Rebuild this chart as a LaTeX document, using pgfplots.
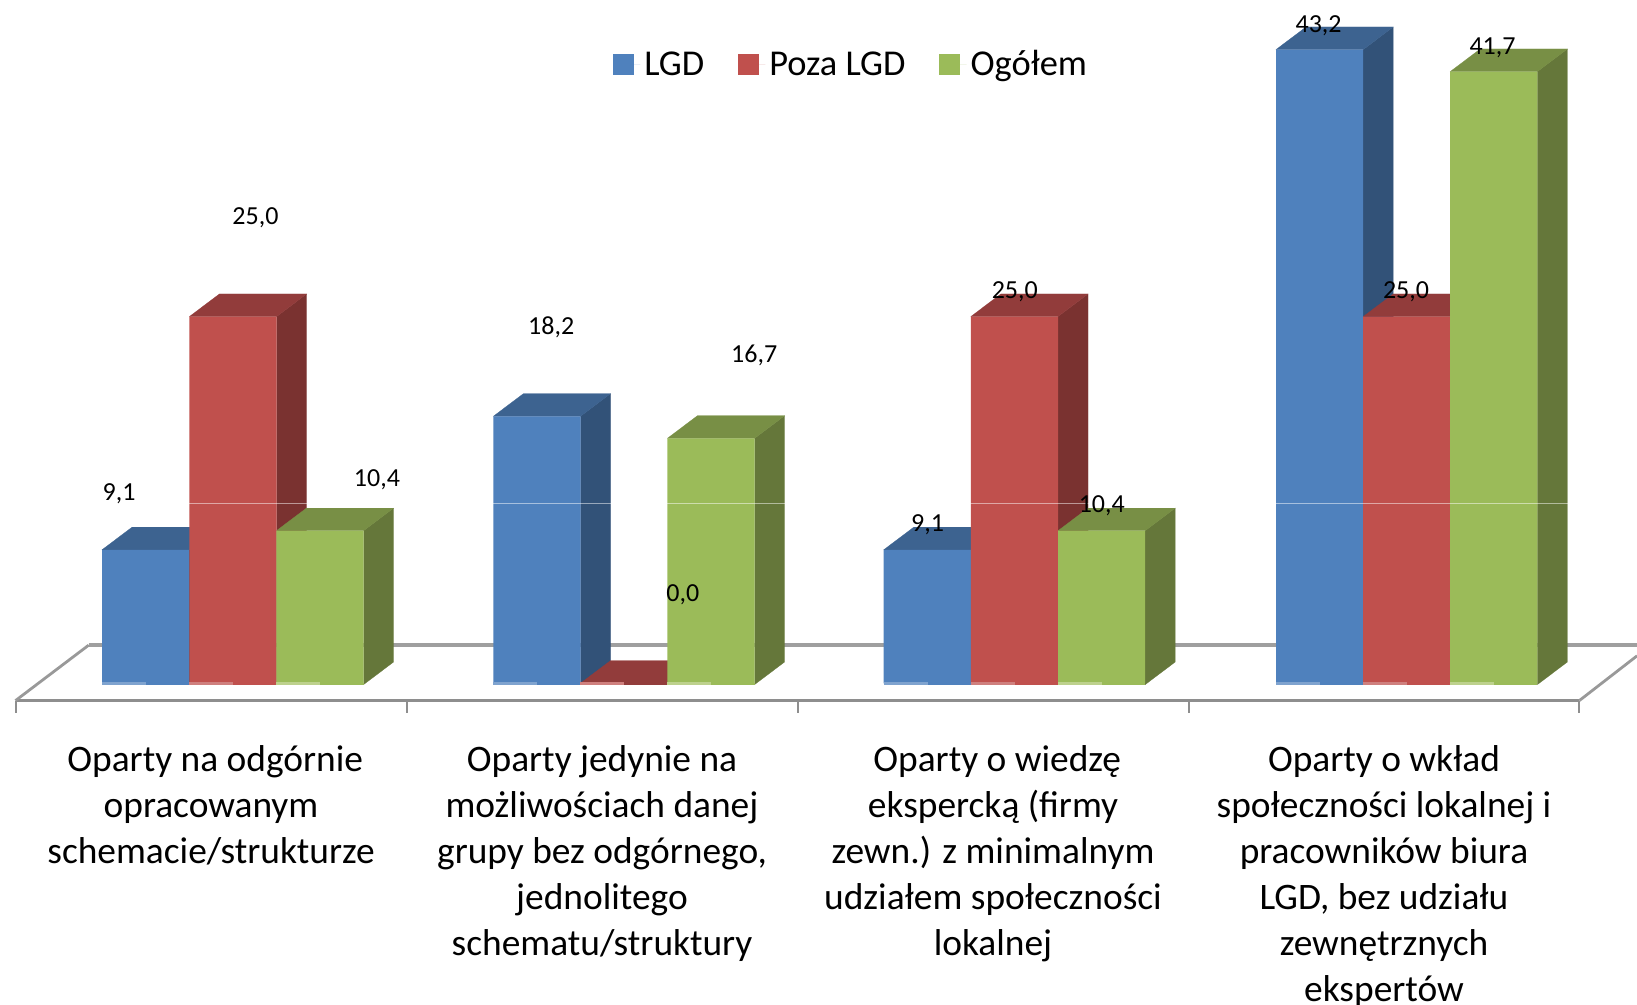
\documentclass[border=0pt]{standalone}
\usepackage{pgfplots}
\pgfplotsset{compat=1.18}
\usepackage{fontspec}
\setmainfont{Carlito}
\definecolor{bF}{HTML}{4F81BD}\definecolor{bT}{HTML}{3D6390}\definecolor{bS}{HTML}{325278}\definecolor{bH}{HTML}{7FA3CF}
\definecolor{rF}{HTML}{C0504D}\definecolor{rT}{HTML}{923C3B}\definecolor{rS}{HTML}{7A3230}\definecolor{rH}{HTML}{CF807E}
\definecolor{gF}{HTML}{9BBB59}\definecolor{gT}{HTML}{788F45}\definecolor{gS}{HTML}{65773A}\definecolor{gH}{HTML}{BDD18D}
\definecolor{axG}{HTML}{8E8E8E}
% side and top faces of a bar: left edge (px), value, top colour, side colour
\newcommand{\depthbar}[4]{%
  \pgfmathsetmacro\dbR{#1+87.2}%
  \pgfmathsetmacro\dbRb{#1+117.2}%
  \pgfmathsetmacro\dbLb{#1+30}%
  \pgfmathsetmacro\dbTb{#2+1.54}%
  \addplot[forget plot,fill=#4,draw=#4,line width=0.1pt] coordinates {(\dbR,-0.09) (\dbRb,1.45) (\dbRb,\dbTb) (\dbR,#2)} --cycle;
  \addplot[forget plot,fill=#3,draw=#3,line width=0.1pt] coordinates {(#1,#2) (\dbLb,\dbTb) (\dbRb,\dbTb) (\dbR,#2)} --cycle;
}
% foot of a bar: front colour, then a small light strip over its left half
\newcommand{\footstrip}[3]{%
  \pgfmathsetmacro\dbS{#1+44}%
  \pgfmathsetmacro\dbE{#1+87.2}%
  \addplot[forget plot,fill=#3,draw=none] coordinates {(#1,-0.09) (#1,0.02) (\dbE,0.02) (\dbE,-0.09)} --cycle;
  \addplot[forget plot,fill=#2,draw=none] coordinates {(#1,-0.09) (#1,0.09) (\dbS,0.09) (\dbS,-0.09)} --cycle;
}
\begin{document}
\begin{tikzpicture}
\useasboundingbox (0,0) rectangle (818.5pt,502.2pt);
\begin{axis}[
  at={(0,0)}, anchor=south west,
  scale only axis, width=818.5pt, height=502.2pt,
  xmin=0, xmax=1637, ymin=-21.89, ymax=46.58,
  axis line style={draw=none},
  major tick length=0pt,
  ytick=\empty,
  xtick={211,602,993,1384},
  xticklabels={
    {\hspace*{4.2pt}Oparty na odgórnie\\opracowanym\\schemacie/strukturze},
    {Oparty jedynie na\\możliwościach danej\\grupy bez odgórnego,\\jednolitego\\schematu/struktury},
    {\hspace*{4.2pt}Oparty o wiedzę\\ekspercką (firmy\\zewn.) z minimalnym\\udziałem społeczności\\lokalnej},
    {Oparty o wkład\\społeczności lokalnej i\\pracowników biura\\LGD, bez udziału\\zewnętrznych\\ekspertów}},
  xticklabel style={align=center, anchor=north, yshift=132.9pt,
    font=\fontsize{18.7}{23}\selectfont},
  legend columns=-1,
  legend style={at={(rel axis cs:0.5205,0.9355)}, anchor=center, draw=none, fill=none,
    font=\fontsize{18.2}{22}\selectfont,
    /tikz/every even column/.append style={column sep=15pt}},
  legend image code/.code={\fill[#1] (0pt,-5.25pt) rectangle (10.5pt,5.25pt); \path (0pt,0pt) -- (13.6pt,0pt);},
]
% floor
\addplot[forget plot,color=axG!85,line width=1.8pt] coordinates {(88.7,2.60) (1637,2.60)};
\addplot[forget plot,color=axG,line width=1.7pt] coordinates {(15.5,-1.18) (1579.3,-1.18)};
\addplot[forget plot,color=axG!90,line width=1.4pt] coordinates {(15.5,-1.18) (88.7,2.60)};
\addplot[forget plot,color=axG!90,line width=1.4pt] coordinates {(1579.3,-1.18) (1637,1.87)};
\addplot[forget plot,color=axG,line width=1pt] coordinates {(15.5,-1.18) (15.5,-2.0)};
\addplot[forget plot,color=axG,line width=1pt] coordinates {(406.5,-1.18) (406.5,-2.0)};
\addplot[forget plot,color=axG,line width=1pt] coordinates {(797.5,-1.18) (797.5,-2.0)};
\addplot[forget plot,color=axG,line width=1pt] coordinates {(1188.5,-1.18) (1188.5,-2.0)};
\addplot[forget plot,color=axG,line width=1pt] coordinates {(1579.3,-1.18) (1579.3,-2.0)};
% side and top faces
\depthbar{102}{9.1}{bT}{bS}
\depthbar{189.4}{25}{rT}{rS}
\depthbar{276.4}{10.4}{gT}{gS}
\depthbar{493.3}{18.2}{bT}{bS}
\depthbar{580.4}{0}{rT}{rS}
\depthbar{667.4}{16.7}{gT}{gS}
\depthbar{883.7}{9.1}{bT}{bS}
\depthbar{970.8}{25}{rT}{rS}
\depthbar{1058}{10.4}{gT}{gS}
\depthbar{1276}{43.2}{bT}{bS}
\depthbar{1363.2}{25}{rT}{rS}
\depthbar{1450.2}{41.7}{gT}{gS}
% front faces: the data
\addplot[ybar,bar width=43.6pt,bar shift=0pt,fill=bF,draw=none] coordinates {(145.6,9.1) (536.9,18.2) (927.3,9.1) (1319.6,43.2)};
\addlegendentry{LGD}
\addplot[ybar,bar width=43.6pt,bar shift=0pt,fill=rF,draw=none] coordinates {(233,25) (624,0) (1014.4,25) (1406.8,25)};
\addlegendentry{Poza LGD}
\addplot[ybar,bar width=43.6pt,bar shift=0pt,fill=gF,draw=none] coordinates {(320,10.4) (711,16.7) (1101.6,10.4) (1493.8,41.7)};
\addlegendentry{Ogółem}
% foot strips
\footstrip{102}{bH}{bF}\footstrip{189.4}{rH}{rF}\footstrip{276.4}{gH}{gF}
\footstrip{493.3}{bH}{bF}\footstrip{580.4}{rH}{rT}\footstrip{667.4}{gH}{gF}
\footstrip{883.7}{bH}{bF}\footstrip{970.8}{rH}{rF}\footstrip{1058}{gH}{gF}
\footstrip{1276}{bH}{bF}\footstrip{1363.2}{rH}{rF}\footstrip{1450.2}{gH}{gF}
% gridline
\addplot[forget plot,color=white,opacity=0.5,line width=0.5pt] coordinates {(0,12.27) (1637,12.27)};
% data labels
\begin{scope}[every node/.style={font=\fontsize{13}{15}\selectfont, inner sep=0pt}]
\node at (axis cs:119,12.95) {9,1};
\node at (axis cs:255.5,31.77) {25,0};
\node at (axis cs:376.9,13.88) {10,4};
\node at (axis cs:551.2,24.24) {18,2};
\node at (axis cs:682.8,6.06) {0,0};
\node at (axis cs:754.2,22.32) {16,7};
\node at (axis cs:927.5,10.82) {9,1};
\node at (axis cs:1014.8,26.66) {25,0};
\node at (axis cs:1101.8,12.10) {10,4};
\node at (axis cs:1318.6,44.84) {43,2};
\node at (axis cs:1406,26.66) {25,0};
\node at (axis cs:1492.5,43.35) {41,7};
\end{scope}
\end{axis}
\end{tikzpicture}
\end{document}
